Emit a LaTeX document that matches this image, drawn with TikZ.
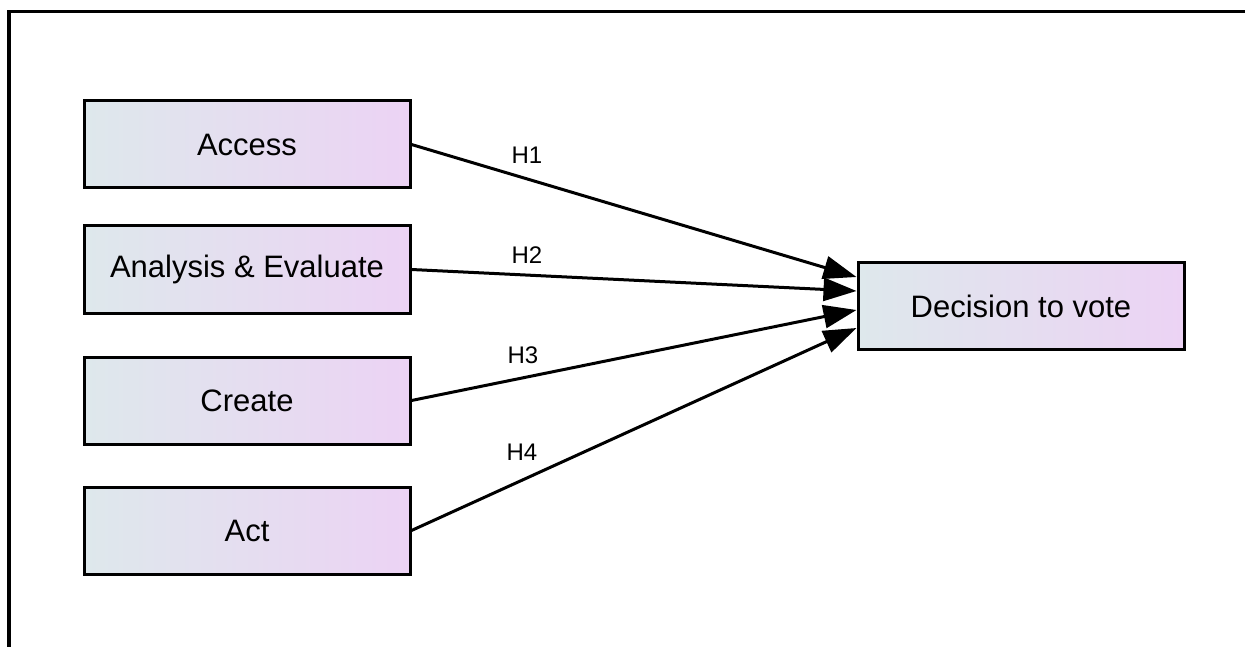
\documentclass[tikz,border=0pt]{standalone}
\usepackage{fontspec}
\setmainfont{Liberation Sans}
\usetikzlibrary{positioning, arrows.meta, calc}
\definecolor{boxleft}{RGB}{222,232,236}
\definecolor{boxright}{RGB}{236,211,244}
\tikzset{
        node distance=40pt,
        link/.style={-{Triangle[length=33pt, width=23pt]}, line width=3pt}, % big filled heads
        factor/.style={draw, line width=3pt, minimum width=326pt, minimum height=87pt,
                       left color=boxleft, right color=boxright, inner sep=0pt,
                       font=\fontsize{31}{36}\selectfont},
        hyp/.style={font=\fontsize{24}{28}\selectfont}
        }
\begin{document}
\begin{tikzpicture}[x=1pt, y=-1pt]
        \useasboundingbox (0,0) rectangle (1245,647);
        \draw[line width=3.5pt] (9,647) -- (9,11.5) -- (1245,11.5);
        \node[factor](access) at (247,144.5){Access};
        \node[factor, below=35pt of access](analysis){Analysis \& Evaluate};
        \node[factor, below=41pt of analysis](create){Create};
        \node[factor, below=40pt of create](act){Act};
        \node[factor](decision) at (1021,306){Decision to vote};
        \path[link] (access.east) edge ($(decision.west)+(0,-29)$)
              (analysis.east) edge ($(decision.west)+(0,-15)$)
              (create.east) edge ($(decision.west)+(0,4)$)
              (act.east) edge ($(decision.west)+(0,22)$);
        \node[hyp](h1) at (527,155){H1};
        \node[hyp](h2) at (527,255){H2};
        \node[hyp](h3) at (523,355){H3};
        \node[hyp](h4) at (522,452){H4};
\end{tikzpicture}
\end{document}
